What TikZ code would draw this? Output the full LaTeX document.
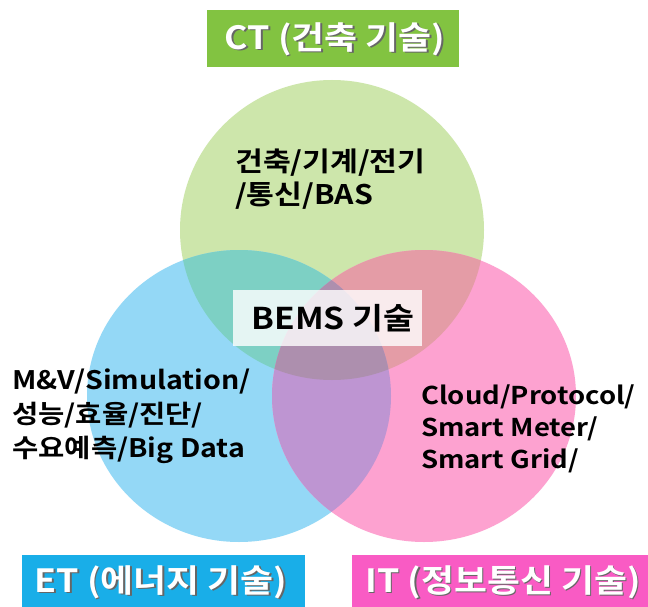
\documentclass[tikz,border=0pt]{standalone}
\usepackage{fontspec}
\setmainfont{Noto Sans CJK KR Bold}[FakeStretch=1.12]
% white caption text with a soft dark drop shadow, set inside one box
\newcommand{\shadowed}[1]{\makebox[0pt][l]{\hspace{1.6pt}\raisebox{-1.6pt}{\textcolor{black!60}{#1}}}\textcolor{white}{#1}}
\begin{document}
\begin{tikzpicture}[x=1pt,y=-1pt,
  tagtext/.style={font=\fontsize{32}{34}\selectfont, inner sep=0pt},
  bodytext/.style={font=\fontsize{25.5}{34}\selectfont, align=left, anchor=west, inner sep=0pt}]
\definecolor{cgreen}{HTML}{CDE6AB}
\definecolor{cblue}{HTML}{94D8F6}
\definecolor{cpink}{HTML}{FDA2D0}
\definecolor{cteal}{HTML}{7DD0C4}
\definecolor{crose}{HTML}{E49CA6}
\definecolor{cpurple}{HTML}{BE95D2}
\definecolor{cmauve}{HTML}{AD8FAE}
\definecolor{tagct}{HTML}{82C341}
\definecolor{taget}{HTML}{19AEE8}
\definecolor{tagit}{HTML}{F95BC4}
\useasboundingbox (0,0) rectangle (648,607);
\fill[white] (0,0) rectangle (648,607);
% the three circles
\def\ctcircle{(332,230) ellipse [x radius=152, y radius=150]}
\def\etcircle{(239,396) ellipse [x radius=152, y radius=146]}
\def\itcircle{(424,396) ellipse [x radius=152, y radius=146]}
\fill[cgreen] \ctcircle;
\fill[cblue] \etcircle;
\fill[cpink] \itcircle;
% pairwise overlaps
\begin{scope}
  \clip \ctcircle;
  \fill[cteal] \etcircle;
  \fill[crose] \itcircle;
\end{scope}
\begin{scope}
  \clip \etcircle;
  \fill[cpurple] \itcircle;
\end{scope}
% common region
\begin{scope}
  \clip \ctcircle;
  \clip \etcircle;
  \fill[cmauve] \itcircle;
\end{scope}
% centre label
\fill[white, opacity=0.8] (233,290) rectangle (422,346);
\node[font=\fontsize{30}{32}\selectfont, inner sep=0pt] (bems) at (333,318) {BEMS 기술};
% circle contents
\node[bodytext, font=\fontsize{27}{33}\selectfont] (ctbody) at (235,179) {건축/기계/전기\\/통신/BAS};
\node[bodytext] (etbody) at (12,416) {M\&V/Simulation/\\성능/효율/진단/\\수요예측/Big Data};
\node[bodytext, font=\fontsize{24.5}{32}\selectfont] (itbody) at (421,429) {Cloud/Protocol/\\Smart Meter/\\Smart Grid/};
% title tags
\fill[tagct] (207,10) rectangle (459,67);
\fill[taget] (22,555) rectangle (305,615);
\fill[tagit] (352,555) rectangle (655,615);
\node[tagtext] (cttag) at (335,40) {\shadowed{CT (건축 기술)}};
\node[tagtext] (ettag) at (161,583) {\shadowed{ET (에너지 기술)}};
\node[tagtext] (ittag) at (503,583) {\shadowed{IT (정보통신 기술)}};
\end{tikzpicture}
\end{document}
